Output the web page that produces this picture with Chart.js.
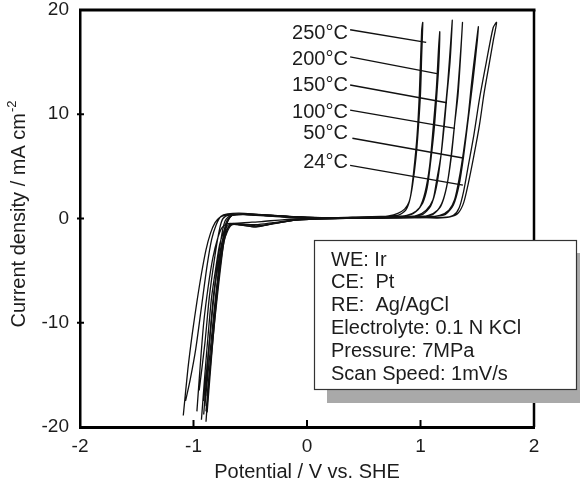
<!DOCTYPE html>
<html>
<head>
<meta charset="utf-8">
<script src="https://cdn.jsdelivr.net/npm/chart.js@4/dist/chart.umd.min.js"></script>
<style>
  html, body { margin: 0; padding: 0; background: #fff; }
  #wrap { position: relative; width: 580px; height: 484px; }
</style>
</head>
<body>
<div id="wrap"><canvas id="c"></canvas></div>
<script>
// Polarization curves of Ir in 0.1 N KCl at several temperatures.
// Each curve is one sweep out and back: potential (V vs. SHE) and current density (mA/cm2).
const temps = ['250°C', '200°C', '150°C', '100°C', '50°C', '24°C'];

const pot250 = [-1.09,-1.05,-1.01,-0.97,-0.93,-0.89,-0.85,-0.81,-0.77,-0.72,-0.60,-0.45,-0.30,-0.10,0.20,0.45,0.60,0.72,0.80,0.86,0.90,0.93,0.96,0.98,1.00,1.01,1.02,
                1.01,0.99,0.97,0.94,0.91,0.87,0.80,0.65,0.40,0.00,-0.30,-0.55,-0.70,-0.76,-0.80,-0.84,-0.88,-0.93,-0.98,-1.03,-1.07];
const cur250 = [-18.9,-14.5,-11.0,-8.0,-5.3,-3.0,-1.4,-0.4,0.1,0.3,0.4,0.3,0.2,0.05,0.0,0.05,0.1,0.25,0.5,0.9,1.6,3.2,5.8,8.5,12.0,15.5,18.8,
                18.0,12.0,8.0,4.5,2.0,0.8,0.3,0.2,0.1,0.05,0.3,0.5,0.45,0.2,-0.6,-2.0,-4.5,-8.5,-12.5,-15.5,-17.5];

const pot200 = [-0.97,-0.94,-0.91,-0.87,-0.83,-0.79,-0.75,-0.70,-0.62,-0.45,-0.30,-0.10,0.20,0.50,0.75,0.88,0.96,1.02,1.06,1.09,1.12,1.14,1.16,1.17,
                1.16,1.14,1.11,1.08,1.04,0.99,0.92,0.80,0.40,0.00,-0.30,-0.55,-0.68,-0.74,-0.77,-0.81,-0.86,-0.90,-0.95];
const cur200 = [-18.5,-14.0,-10.0,-6.5,-3.8,-2.0,-0.9,-0.5,-0.5,-0.6,-0.4,-0.1,0.0,0.05,0.1,0.3,0.7,1.5,3.0,5.5,8.5,11.3,14.5,17.9,
                16.5,12.5,8.5,5.0,2.5,1.0,0.4,0.2,0.1,0.1,0.3,0.45,0.35,0.0,-1.0,-3.5,-7.5,-12.0,-16.5];

const pot150 = [-0.93,-0.90,-0.87,-0.84,-0.80,-0.77,-0.73,-0.69,-0.62,-0.45,-0.30,-0.10,0.20,0.55,0.85,0.97,1.05,1.11,1.14,1.18,1.21,1.23,1.26,1.28,
                1.27,1.24,1.21,1.18,1.14,1.09,1.02,0.90,0.50,0.00,-0.30,-0.55,-0.67,-0.72,-0.75,-0.79,-0.83,-0.87,-0.91];
const cur150 = [-19.3,-15.0,-11.0,-7.5,-4.5,-2.5,-1.2,-0.6,-0.5,-0.7,-0.5,-0.15,0.0,0.05,0.1,0.3,0.8,1.8,3.5,6.0,9.0,11.5,15.0,19.0,
                17.5,13.0,9.5,6.0,3.0,1.2,0.4,0.2,0.1,0.1,0.25,0.4,0.3,-0.2,-1.5,-4.5,-8.5,-13.0,-17.5];

const pot100 = [-0.91,-0.88,-0.85,-0.82,-0.78,-0.75,-0.71,-0.67,-0.60,-0.45,-0.30,-0.10,0.20,0.60,0.95,1.07,1.15,1.20,1.24,1.27,1.30,1.33,1.35,1.37,
                1.36,1.33,1.30,1.27,1.23,1.18,1.11,1.00,0.60,0.00,-0.30,-0.55,-0.66,-0.71,-0.74,-0.78,-0.82,-0.86,-0.90];
const cur100 = [-18.8,-14.5,-10.5,-7.0,-4.2,-2.3,-1.1,-0.6,-0.6,-0.8,-0.5,-0.15,0.0,0.05,0.1,0.3,0.8,1.8,3.6,6.0,9.0,11.8,15.0,18.8,
                17.0,12.5,9.0,5.8,3.0,1.2,0.4,0.2,0.1,0.1,0.25,0.4,0.3,-0.3,-1.8,-5.0,-9.0,-13.5,-18.0];

const pot50 = [-0.89,-0.86,-0.83,-0.80,-0.77,-0.74,-0.70,-0.66,-0.60,-0.45,-0.30,-0.10,0.20,0.65,1.05,1.17,1.25,1.30,1.34,1.38,1.42,1.45,1.48,1.51,
               1.50,1.46,1.42,1.38,1.34,1.29,1.22,1.10,0.70,0.00,-0.30,-0.55,-0.66,-0.70,-0.73,-0.77,-0.81,-0.85,-0.89];
const cur50 = [-19.5,-15.0,-11.0,-7.5,-4.5,-2.5,-1.2,-0.6,-0.6,-0.8,-0.5,-0.15,0.0,0.05,0.1,0.3,0.8,1.8,3.8,6.5,9.8,13.0,15.8,18.4,
               17.0,13.0,9.5,6.0,3.2,1.3,0.4,0.2,0.1,0.1,0.25,0.4,0.3,-0.3,-2.0,-5.5,-9.5,-14.0,-18.5];

const pot24 = [-0.88,-0.85,-0.82,-0.79,-0.76,-0.73,-0.70,-0.66,-0.55,-0.40,-0.20,0.10,0.50,0.90,1.15,1.26,1.33,1.38,1.42,1.47,1.52,1.56,1.60,1.64,1.67,
               1.64,1.58,1.52,1.47,1.42,1.38,1.34,1.29,1.20,0.80,0.40,0.00,-0.30,-0.55,-0.66,-0.70,-0.73,-0.76,-0.80,-0.84,-0.88];
const cur24 = [-18.6,-14.5,-10.5,-7.0,-4.2,-2.2,-1.0,-0.5,-0.4,-0.3,-0.1,0.0,0.05,0.1,0.05,0.15,0.5,1.5,3.3,6.0,9.0,12.0,14.5,17.0,18.8,
               18.3,15.0,11.5,8.0,5.0,2.6,1.0,0.3,0.1,0.2,0.1,0.1,0.3,0.4,0.3,-0.3,-1.5,-4.0,-8.0,-12.5,-17.0];

// Temperature labels (right edge anchor) and the leader lines pointing to each curve.
const labelPot = [0.36, 0.36, 0.36, 0.36, 0.36, 0.36];
const labelCur = [17.7, 15.3, 12.8, 10.2, 8.2, 5.4];
const leaderStartPot = [0.38, 0.38, 0.38, 0.38, 0.40, 0.38];
const leaderStartCur = [18.1, 15.5, 12.8, 10.4, 7.7, 5.1];
const leaderEndPot = [1.05, 1.145, 1.233, 1.304, 1.374, 1.374];
const leaderEndCur = [16.9, 13.9, 11.1, 8.65, 5.8, 3.2];

const xTicks = [-2, -1, 0, 1, 2];
const yTicks = [-20, -10, 0, 10, 20];

const infoLines = ['WE: Ir', 'CE:  Pt', 'RE:  Ag/AgCl', 'Electrolyte: 0.1 N KCl', 'Pressure: 7MPa', 'Scan Speed: 1mV/s'];

const FONT = '"Liberation Sans", Arial, Helvetica, sans-serif';
const INK = '#1c1c1c';

const curves = [[pot250, cur250], [pot200, cur200], [pot150, cur150], [pot100, cur100], [pot50, cur50], [pot24, cur24]];

const datasets = curves.map(([p, c], k) => ({
  label: temps[k],
  data: p.map((v, i) => ({ x: v, y: c[i] })),
  showLine: true,
  borderColor: '#111',
  borderWidth: 1.3,
  pointRadius: 0,
  tension: 0.25,
  fill: false
}));

temps.forEach((t, k) => {
  datasets.push({
    label: t + ' leader',
    data: [{ x: leaderStartPot[k], y: leaderStartCur[k] }, { x: leaderEndPot[k], y: leaderEndCur[k] }],
    showLine: true,
    borderColor: '#111',
    borderWidth: 1.4,
    pointRadius: 0,
    tension: 0
  });
});

// Frame, tick marks, curve labels, the conditions box and the y-axis title.
const decor = {
  id: 'decor',
  afterDraw(chart) {
    const { ctx, chartArea: a, scales: { x, y } } = chart;
    const seg = (x1, y1, x2, y2) => { ctx.beginPath(); ctx.moveTo(x1, y1); ctx.lineTo(x2, y2); ctx.stroke(); };
    ctx.save();
    ctx.strokeStyle = '#000';
    ctx.lineCap = 'butt';

    ctx.lineWidth = 3;
    seg(a.left - 1, a.top, a.right + 1.5, a.top);
    ctx.lineWidth = 2.5;
    seg(a.right, a.top, a.right, a.bottom);

    ctx.lineWidth = 2;
    yTicks.slice(1, -1).forEach(v => {
      const py = y.getPixelForValue(v);
      seg(a.left - 3, py, a.left + 4, py);
    });
    xTicks.slice(1, -1).forEach(v => {
      const px = x.getPixelForValue(v);
      seg(px, a.bottom, px, a.bottom - 7);
    });

    ctx.fillStyle = INK;
    ctx.font = `20px ${FONT}`;
    ctx.textAlign = 'right';
    ctx.textBaseline = 'middle';
    temps.forEach((t, k) => ctx.fillText(t, x.getPixelForValue(labelPot[k]), y.getPixelForValue(labelCur[k])));

    // conditions box with drop shadow
    const bx = 314, by = 240, bw = 262, bh = 149, sh = 13;
    ctx.fillStyle = '#a9a9a9';
    ctx.fillRect(bx + sh, by + sh, bw, bh + 1);
    ctx.fillStyle = '#fff';
    ctx.fillRect(bx, by, bw, bh);
    ctx.lineWidth = 1.2;
    ctx.strokeStyle = '#333';
    ctx.strokeRect(bx + 0.5, by + 0.5, bw, bh);
    ctx.fillStyle = INK;
    ctx.font = `20px ${FONT}`;
    ctx.textAlign = 'left';
    ctx.textBaseline = 'middle';
    infoLines.forEach((s, i) => ctx.fillText(s, bx + 17, by + 20 + i * 22.8));

    // y-axis title with superscript
    ctx.translate(19, 214);
    ctx.rotate(-Math.PI / 2);
    const main = 'Current density / mA cm';
    const sup = '-2';
    ctx.font = `20px ${FONT}`;
    const wMain = ctx.measureText(main).width;
    ctx.font = `13px ${FONT}`;
    const wSup = ctx.measureText(sup).width;
    const start = -(wMain + wSup + 1) / 2;
    ctx.font = `20px ${FONT}`;
    ctx.textAlign = 'left';
    ctx.fillText(main, start, 0);
    ctx.font = `13px ${FONT}`;
    ctx.fillText(sup, start + wMain + 1, -7);
    ctx.restore();
  }
};

new Chart(document.getElementById('c'), {
  type: 'scatter',
  data: { datasets },
  options: {
    responsive: true,
    maintainAspectRatio: false,
    animation: false,
    events: [],
    layout: { padding: { left: 0, right: 46, top: 10, bottom: 0 } },
    plugins: { legend: { display: false }, tooltip: { enabled: false } },
    scales: {
      x: {
        type: 'linear', min: -2, max: 2,
        afterBuildTicks: s => { s.ticks = xTicks.map(v => ({ value: v })); },
        afterFit: s => { s.height = 57; s.paddingLeft = 0; s.paddingRight = 0; },
        grid: { display: false, drawTicks: false },
        border: { display: true, color: '#000', width: 3 },
        ticks: { color: INK, font: { family: FONT, size: 19 }, padding: 8 },
        title: { display: true, text: 'Potential / V vs. SHE', color: INK, font: { family: FONT, size: 20 }, padding: 0 }
      },
      y: {
        type: 'linear', min: -20, max: 20,
        afterBuildTicks: s => { s.ticks = yTicks.map(v => ({ value: v })); },
        afterFit: s => { s.width = 80; s.paddingTop = 0; s.paddingBottom = 0; },
        grid: { display: false, drawTicks: false },
        border: { display: true, color: '#000', width: 2.5 },
        ticks: { color: INK, font: { family: FONT, size: 19 }, padding: 11 }
      }
    }
  },
  plugins: [decor]
});
</script>
</body>
</html>
